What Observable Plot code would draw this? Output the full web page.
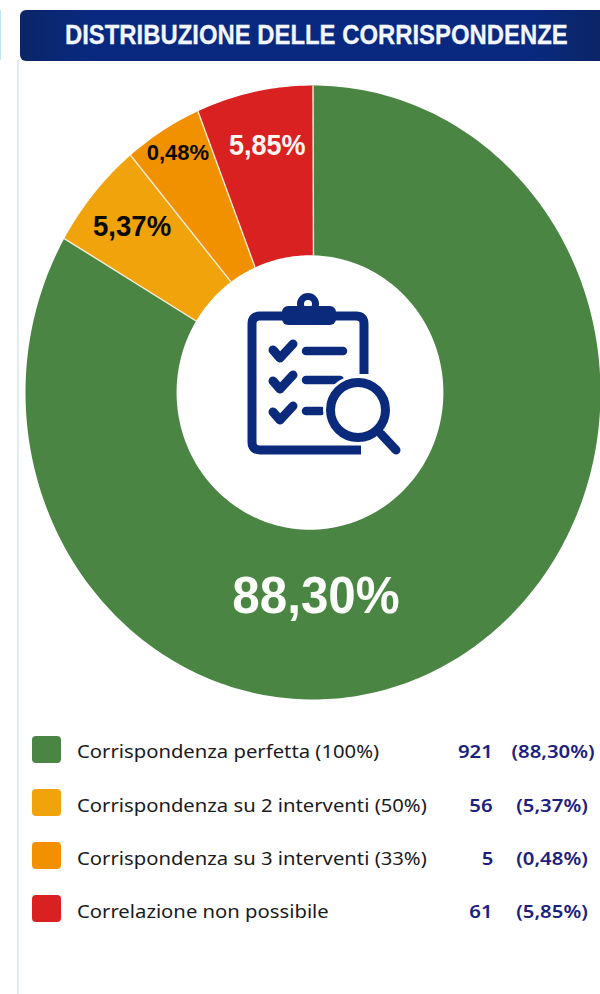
<!DOCTYPE html>
<html lang="it">
<head>
<meta charset="utf-8">
<script src="https://cdn.jsdelivr.net/npm/d3@7"></script>
<script src="https://cdn.jsdelivr.net/npm/@observablehq/plot@0.6"></script>
<style>
html,body{margin:0;padding:0;background:#fff;width:600px;height:994px;overflow:hidden}
#page{position:relative;width:600px;height:994px;overflow:hidden;background:#fff}
#edge{position:absolute;left:17px;top:60px;width:2px;height:934px;background:#e2eaf8}
#tick{position:absolute;left:0;top:10px;width:1px;height:50px;background:#bfe3f7}
#title{position:absolute;left:20px;top:10px;width:580px;height:51px;box-sizing:border-box;
  background:linear-gradient(90deg,#0b2566 0%,#08297f 12%,#08297f 88%,#0b2566 100%);
  border-radius:6px 0 0 6px;color:#f2f6ff;-webkit-text-stroke:0.3px #f2f6ff;
  font:700 28px "Liberation Sans",sans-serif;line-height:49px;white-space:nowrap}
#title span{position:absolute;left:45px;top:0;transform-origin:0 50%}
#chart{position:absolute;left:0;top:0}
.sw{position:absolute;left:32px;width:29px;height:27px;border-radius:4px}
.lb,.ct,.pc{position:absolute;height:24px;line-height:24px;white-space:nowrap;font-family:"Noto Sans",sans-serif}
.lb{left:77px;font-size:18px;color:#1a1a22;transform:scaleX(1.125);transform-origin:0 50%}
.ct{right:107px;font-size:18px;font-weight:600;color:#1c2180;transform:scaleX(1.13);transform-origin:100% 50%}
.pc{width:84px;text-align:center;font-size:18px;font-weight:600;color:#1c2180;transform:scaleX(1.13)}
</style>
</head>
<body>
<div id="page">
  <div id="tick"></div>
  <div id="edge"></div>
  <div id="chart"></div>
  <div id="title"><span id="titleText"></span></div>
  <div id="legend"></div>
</div>
<script>
const titleText = "DISTRIBUZIONE DELLE CORRISPONDENZE";
const categories = [
  "Corrispondenza perfetta (100%)",
  "Corrispondenza su 2 interventi (50%)",
  "Corrispondenza su 3 interventi (33%)",
  "Correlazione non possibile"
];
const counts = [921, 56, 5, 61];
const percents = ["88,30%", "5,37%", "0,48%", "5,85%"];
// Sweep of each slice as drawn in the picture, clockwise from 12 o'clock (degrees),
// on the outer rim and on the rim of the hole.
const outerSweep = [300.1, 20.5, 15.8, 23.6];
const innerSweep = [299.9, 22.3, 12, 25.8];
const colors = ["#4a8544", "#f0a30a", "#f29100", "#d92121"];

const HOLE_X = 0.464, HOLE_Y = 0.447, HOLE_SHIFT = -0.0105, INNER_START = 1.5;
const rad = d => d * Math.PI / 180;
const arc = (a0, a1) => {
  const n = Math.ceil(Math.abs(a1 - a0)) + 4;
  return d3.range(n + 1).map(k => a0 + (a1 - a0) * k / n);
};
const outerPoint = a => ({x: Math.sin(rad(a)), y: Math.cos(rad(a))});
const innerPoint = a => ({x: HOLE_SHIFT + HOLE_X * Math.sin(rad(a)), y: HOLE_Y * Math.cos(rad(a))});

// Slice outlines, derived from the sweeps
let oStart = 0, iStart = INNER_START;
const ring = [], seams = [];
categories.forEach((c, i) => {
  const o1 = oStart + outerSweep[i], i1 = iStart + innerSweep[i];
  arc(oStart, o1).forEach(a => ring.push({c, ...outerPoint(a)}));
  arc(i1, iStart).forEach(a => ring.push({c, ...innerPoint(a)}));
  const p = innerPoint(iStart), q = outerPoint(oStart);
  seams.push({x1: p.x, y1: p.y, x2: q.x, y2: q.y});
  oStart = o1; iStart = i1;
});

// Label table: angle (clockwise from top), radial fraction, colour, size, horizontal condensing
const labelSpots = [
  [179.1, 0.665, "#fbfdf9", 52, 0.95],
  [-49.3, 0.83, "#0c0a05", 30, 0.92],
  [-31.1, 0.91, "#0c0a05", 22, 1],
  [-11.2, 0.82, "#fff6f2", 30, 0.9]
];
const labels = percents.map((t, i) => ({
  t,
  x: labelSpots[i][1] * Math.sin(rad(labelSpots[i][0])),
  y: labelSpots[i][1] * Math.cos(rad(labelSpots[i][0])),
  fill: labelSpots[i][2], size: labelSpots[i][3]
}));

function icon() {
  const NS = "http://www.w3.org/2000/svg";
  const g = document.createElementNS(NS, "g");
  g.innerHTML = `
  <g fill="none" stroke="#0b2a7c" stroke-width="9" stroke-linecap="round" stroke-linejoin="round">
    <path d="M364 374V324Q364 316 356 316H260Q252 316 252 324V442Q252 450 260 450H361" stroke-linecap="butt"/>
    <circle cx="308" cy="304" r="7.5" stroke-width="7"/>
    <path d="M273 350L280 358L293 344M273 381L280 389L293 375M273 412L280 420L293 406" stroke-width="9"/>
    <path d="M306 351H343M306 380H340M306 411H321" stroke-width="8.5"/>
  </g>
  <rect x="282" y="306" width="54" height="19" rx="6" fill="#0b2a7c"/>
  <circle cx="358" cy="410" r="35" fill="#fff"/>
  <circle cx="358" cy="410" r="27.5" fill="#fff" stroke="#0b2a7c" stroke-width="9"/>
  <path d="M381 434L396 450" stroke="#0b2a7c" stroke-width="9" stroke-linecap="round"/>`;
  return g;
}

const chart = Plot.plot({
  width: 600, height: 720,
  margin: 0,
  x: {domain: [-1, 1], range: [25, 600], axis: null},
  y: {domain: [1, -1], range: [85, 699], axis: null},
  color: {domain: categories, range: colors},
  style: {background: "transparent"},
  marks: [
    Plot.line(ring, {x: "x", y: "y", z: "c", fill: "c", stroke: "none", curve: "linear-closed"}),
    Plot.link(seams, {x1: "x1", y1: "y1", x2: "x2", y2: "y2", stroke: "#f6ecd8", strokeWidth: 1.4}),
    Plot.text(labels, {
      x: "x", y: "y", text: "t", fill: "fill", fontSize: "size", fontWeight: 700,
      fontFamily: '"Liberation Sans",sans-serif'
    }),
    icon
  ]
});
document.getElementById("chart").appendChild(chart);
chart.querySelectorAll('g[aria-label="text"] text').forEach((el, i) => {
  el.setAttribute("transform", `${el.getAttribute("transform") || ""} scale(${labelSpots[i][4]},1)`);
});

const titleEl = document.getElementById("titleText");
titleEl.textContent = titleText;
titleEl.style.transform = `scaleX(${503 / titleEl.offsetWidth})`;

const legend = document.getElementById("legend");
const rowY = [751, 804.5, 857.5, 910.5];
categories.forEach((c, i) => {
  const y = rowY[i];
  legend.insertAdjacentHTML("beforeend",
    `<div class="sw" style="top:${y - 15.5}px;background:${colors[i]}"></div>` +
    `<div class="lb" style="top:${y - 12}px">${c}</div>` +
    `<div class="ct" style="top:${y - 12}px">${counts[i]}</div>` +
    `<div class="pc" style="top:${y - 12}px;left:${i === 0 ? 511 : 510}px">(${percents[i]})</div>`);
});
</script>
</body>
</html>
